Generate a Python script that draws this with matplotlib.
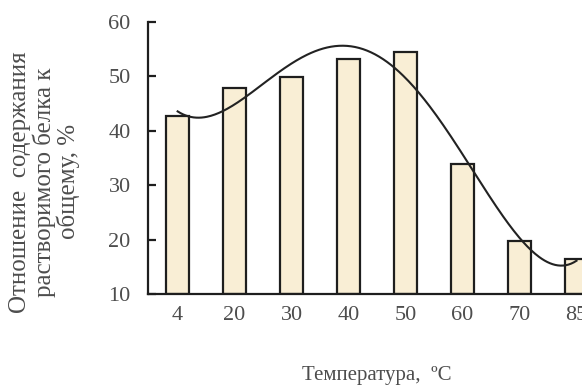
import numpy as np
import matplotlib; matplotlib.use('Agg')
import matplotlib.pyplot as plt

# Data
temps = ['4', '20', '30', '40', '50', '60', '70', '85']
soluble_share = [42.7, 47.9, 49.8, 53.2, 54.5, 33.9, 19.7, 16.5]
trend_degree = 4

plt.rcParams['font.family'] = ['Liberation Serif', 'DejaVu Serif']
text_col = '#4d4d4d'
edge_col = '#1e1e1e'

fig = plt.figure(figsize=(5.82, 3.87), dpi=100)
# the right end of the plot runs past the picture edge, as in the original
ax = fig.add_axes([148 / 582, 1 - 294 / 387, (605 - 148) / 582, (294 - 22) / 387])

x = np.arange(len(temps))
ax.bar(x, np.array(soluble_share) - 10, bottom=10, width=0.4,
       color='#f9eed5', edgecolor=edge_col, linewidth=1.6, zorder=2)

# polynomial trendline (Excel style, x = 1..n)
xn = np.arange(1, len(temps) + 1)
coef = np.polyfit(xn, soluble_share, trend_degree)
xs = np.linspace(1, len(temps), 300)
ax.plot(xs - 1, np.polyval(coef, xs), color='#222222', linewidth=1.5, zorder=3)

ax.set_xlim(-0.52, len(temps) - 0.5)
ax.set_ylim(10, 60)
ax.set_yticks([10, 20, 30, 40, 50, 60])
ax.set_xticks(x)
ax.set_xticklabels(temps)
ax.spines['top'].set_visible(False)
ax.spines['right'].set_visible(False)
for s in ['left', 'bottom']:
    ax.spines[s].set_linewidth(1.6)
    ax.spines[s].set_color(edge_col)
ax.tick_params(axis='y', direction='in', length=6, width=1.6, colors=edge_col,
               labelcolor=text_col, labelsize=16, pad=12.5)
ax.tick_params(axis='x', length=0, labelcolor=text_col, labelsize=16, pad=9)

fig.text(0.077, 0.53, 'Отношение  содержания\nрастворимого белка к\nобщему, %',
         rotation=90, ha='center', va='center', multialignment='center',
         color=text_col, fontsize=18, linespacing=1.05)
fig.text(0.648, 0.03, 'Температура,  ºС', ha='center', va='center',
         color=text_col, fontsize=15)

fig.savefig('out.png', dpi=100)
